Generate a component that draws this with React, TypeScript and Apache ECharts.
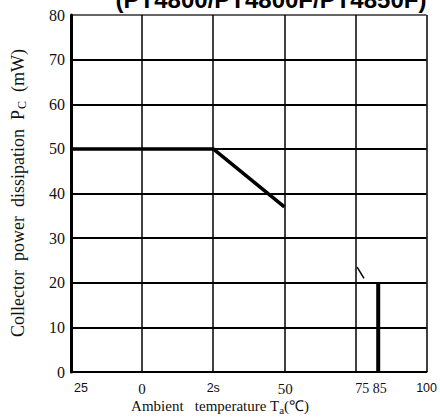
import React, { useEffect, useRef } from "react";
import * as echarts from "echarts";

const chartTitle = "(PT4800/PT4800F/PT4850F)";
const xTickValues = [-25, 0, 25, 50, 75, 100];
const xTickLabels = ["25", "0", "2s", "50", "75 85", "100"];
const yMin = 0;
const yMax = 80;
const yInterval = 10;
const xMin = -25;
const xMax = 100;
const xInterval = 25;

const deratingTemp = [-25, 25, 50];
const deratingPower = [50, 50, 37];
const markTemp = [75.6, 78];
const markPower = [23.5, 21];
const cutoffTemp = [83, 83];
const cutoffPower = [20, 0];

const serif = "Liberation Serif";
const sans = "Liberation Sans";

const pairs = (xs: number[], ys: number[]) => xs.map((x, i) => [x, ys[i]]);

export default function App() {
  const ref = useRef<HTMLDivElement>(null);
  useEffect(() => {
    if (!ref.current) return;
    const chart = echarts.init(ref.current, null, { renderer: "svg" });
    const labelRich: Record<string, any> = {
      t0: { fontFamily: sans, fontSize: 12.5, color: "#111", padding: [0, 0, 0, 20] },
      t1: { fontFamily: serif, fontSize: 15, color: "#111" },
      t2: { fontFamily: sans, fontSize: 12.5, color: "#111" },
      t3: { fontFamily: serif, fontSize: 15, color: "#111", padding: [0, 0, 0, 2] },
      t4: { fontFamily: serif, fontSize: 14, color: "#111", padding: [0, 0, 0, 31] },
      t5: { fontFamily: sans, fontSize: 12.5, color: "#111" },
    };
    chart.setOption({
      animation: false,
      backgroundColor: "#fff",
      grid: { left: 71, right: 13, top: 15, bottom: 47, containLabel: false },
      xAxis: {
        type: "value",
        min: xMin,
        max: xMax,
        interval: xInterval,
        axisLine: { show: true, onZero: false, lineStyle: { color: "#000", width: 2 } },
        axisTick: { show: false },
        splitLine: { show: true, lineStyle: { color: "#000", width: 1.5 } },
        axisLabel: {
          margin: 9,
          formatter: (v: number) => {
            const i = xTickValues.indexOf(v);
            return i < 0 ? "" : `{t${i}|${xTickLabels[i]}}`;
          },
          rich: labelRich,
        },
      },
      yAxis: {
        type: "value",
        min: yMin,
        max: yMax,
        interval: yInterval,
        axisLine: { show: true, onZero: false, lineStyle: { color: "#000", width: 3 } },
        axisTick: { show: false },
        splitLine: {
          show: true,
          lineStyle: {
            color: ["#000", "#000", "#000", "#000", "#000", "#000", "#000", "#000", "#666"],
            width: 2,
          },
        },
        axisLabel: { margin: 6, fontFamily: serif, fontSize: 16, color: "#111" },
      },
      graphic: [
        {
          type: "text",
          x: 271,
          y: -1,
          style: {
            text: chartTitle,
            fontFamily: sans,
            fontWeight: "bold",
            fontSize: 24,
            fill: "#000",
            align: "center",
            verticalAlign: "middle",
          },
        },
        {
          type: "text",
          x: 18,
          y: 193,
          rotation: Math.PI / 2,
          style: {
            text: "Collector  power  dissipation  P{sub|C}  (mW)",
            fontFamily: serif,
            fontSize: 18,
            fill: "#111",
            align: "center",
            verticalAlign: "middle",
            rich: { sub: { fontFamily: serif, fontSize: 12, fill: "#111", padding: [8, 0, 0, 1] } },
          },
        },
        {
          type: "text",
          x: 220,
          y: 406,
          style: {
            text: "Ambient   temperature T{sub|a}(℃)",
            fontFamily: serif,
            fontSize: 15,
            fill: "#111",
            align: "center",
            verticalAlign: "middle",
            rich: { sub: { fontFamily: serif, fontSize: 11, fill: "#111", padding: [7, 0, 0, 0] } },
          },
        },
      ],
      series: [
        {
          type: "line",
          data: pairs(deratingTemp, deratingPower),
          symbol: "none",
          lineStyle: { color: "#000", width: 3.5 },
        },
        {
          type: "line",
          data: pairs(markTemp, markPower),
          symbol: "none",
          lineStyle: { color: "#000", width: 1.5 },
        },
        {
          type: "line",
          data: pairs(cutoffTemp, cutoffPower),
          symbol: "none",
          lineStyle: { color: "#000", width: 4 },
        },
      ],
    });
    return () => chart.dispose();
  }, []);
  return (
    <div
      ref={ref}
      style={{ position: "fixed", left: 0, top: 0, width: 440, height: 419, background: "#fff" }}
    />
  );
}
